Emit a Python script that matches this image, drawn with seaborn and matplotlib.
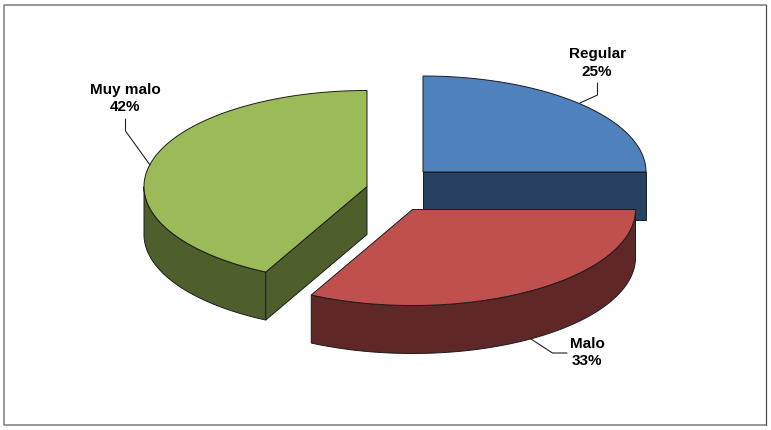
#!/usr/bin/env python3
"""Exploded 3D-look pie chart, drawn as projected polygons."""

import numpy as np
import matplotlib
matplotlib.use('Agg')
import matplotlib.pyplot as plt
import seaborn as sns

categories = ['Regular', 'Malo', 'Muy malo']
values = [25, 32.5, 42.5]
percent_labels = ['25%', '33%', '42%']

top_colors = sns.color_palette(['#4F81BD', '#C0504D', '#9BBB59'])
side_colors = sns.color_palette(['#284160', '#5F2725', '#4F5F2C'])

# layout in pixels
RX, RY, DEPTH = 223, 96, 48
centers = [(423, 172), (412.5, 209.5), (367, 186.5)]
label_pos = [(597, 63), (587, 352.5), (125, 98.5)]
leaders = [
    ([597.5, 597.5, 580], [83, 95, 103]),
    ([567, 552.5, 531], [353, 353, 339]),
    ([125.5, 125.5, 150], [119, 131, 165]),
]
EDGE = '#1c1c1c'


def rim(center, start, end, n=120):
    """Points on the ellipse, angles in degrees clockwise from the top."""
    t = np.radians(np.linspace(start, end, n))
    return center[0] + RX * np.sin(t), center[1] - RY * np.cos(t)


def draw_slice(ax, center, start, end, top, side):
    cx, cy = center
    # outer wall, only the part that faces the viewer (90 to 270 degrees)
    lo, hi = max(start, 90), min(end, 270)
    if lo < hi:
        x, y = rim(center, lo, hi)
        ax.fill(np.r_[x, x[::-1]], np.r_[y, y[::-1] + DEPTH],
                facecolor=side, edgecolor=EDGE, linewidth=0.7, zorder=2)
    # flat cut walls, the start cut faces us past 180 degrees, the end cut before it
    for angle, visible in [(start, 180 < start < 360), (end, 0 < end < 180)]:
        if not visible:
            continue
        ex, ey = rim(center, angle, angle, n=1)
        ax.fill([cx, ex[0], ex[0], cx], [cy, ey[0], ey[0] + DEPTH, cy + DEPTH],
                facecolor=side, edgecolor=EDGE, linewidth=0.7, zorder=2)
    x, y = rim(center, start, end)
    ax.fill(np.r_[cx, x], np.r_[cy, y], facecolor=top, edgecolor=EDGE,
            linewidth=0.7, zorder=3)


sns.set_theme(style='white')
plt.rcParams['font.family'] = ['Liberation Sans', 'DejaVu Sans']

fig = plt.figure(figsize=(7.71, 4.30), dpi=100)
ax = fig.add_axes([0, 0, 1, 1])
ax.set_xlim(0, 771)
ax.set_ylim(430, 0)
ax.axis('off')

# chart frame
ax.plot([766, 3.5, 3.5, 766], [4.5, 4.5, 425, 425], color='#858585', linewidth=1.2)
ax.plot([766, 766], [4.5, 425], color='#505050', linewidth=0.9)

stops = np.r_[0, np.cumsum(values)] / np.sum(values) * 360
draw_order = [0, 2, 1]
for i in draw_order:
    draw_slice(ax, centers[i], stops[i], stops[i + 1], top_colors[i], side_colors[i])

for i, name in enumerate(categories):
    ax.plot(*leaders[i], color='#222222', linewidth=0.8, zorder=4)
    ax.text(*label_pos[i], f'{name}\n{percent_labels[i]}', ha='center', va='center',
            fontsize=11, fontweight='bold', color='black', linespacing=1.35)

fig.savefig('out.png', dpi=100)
